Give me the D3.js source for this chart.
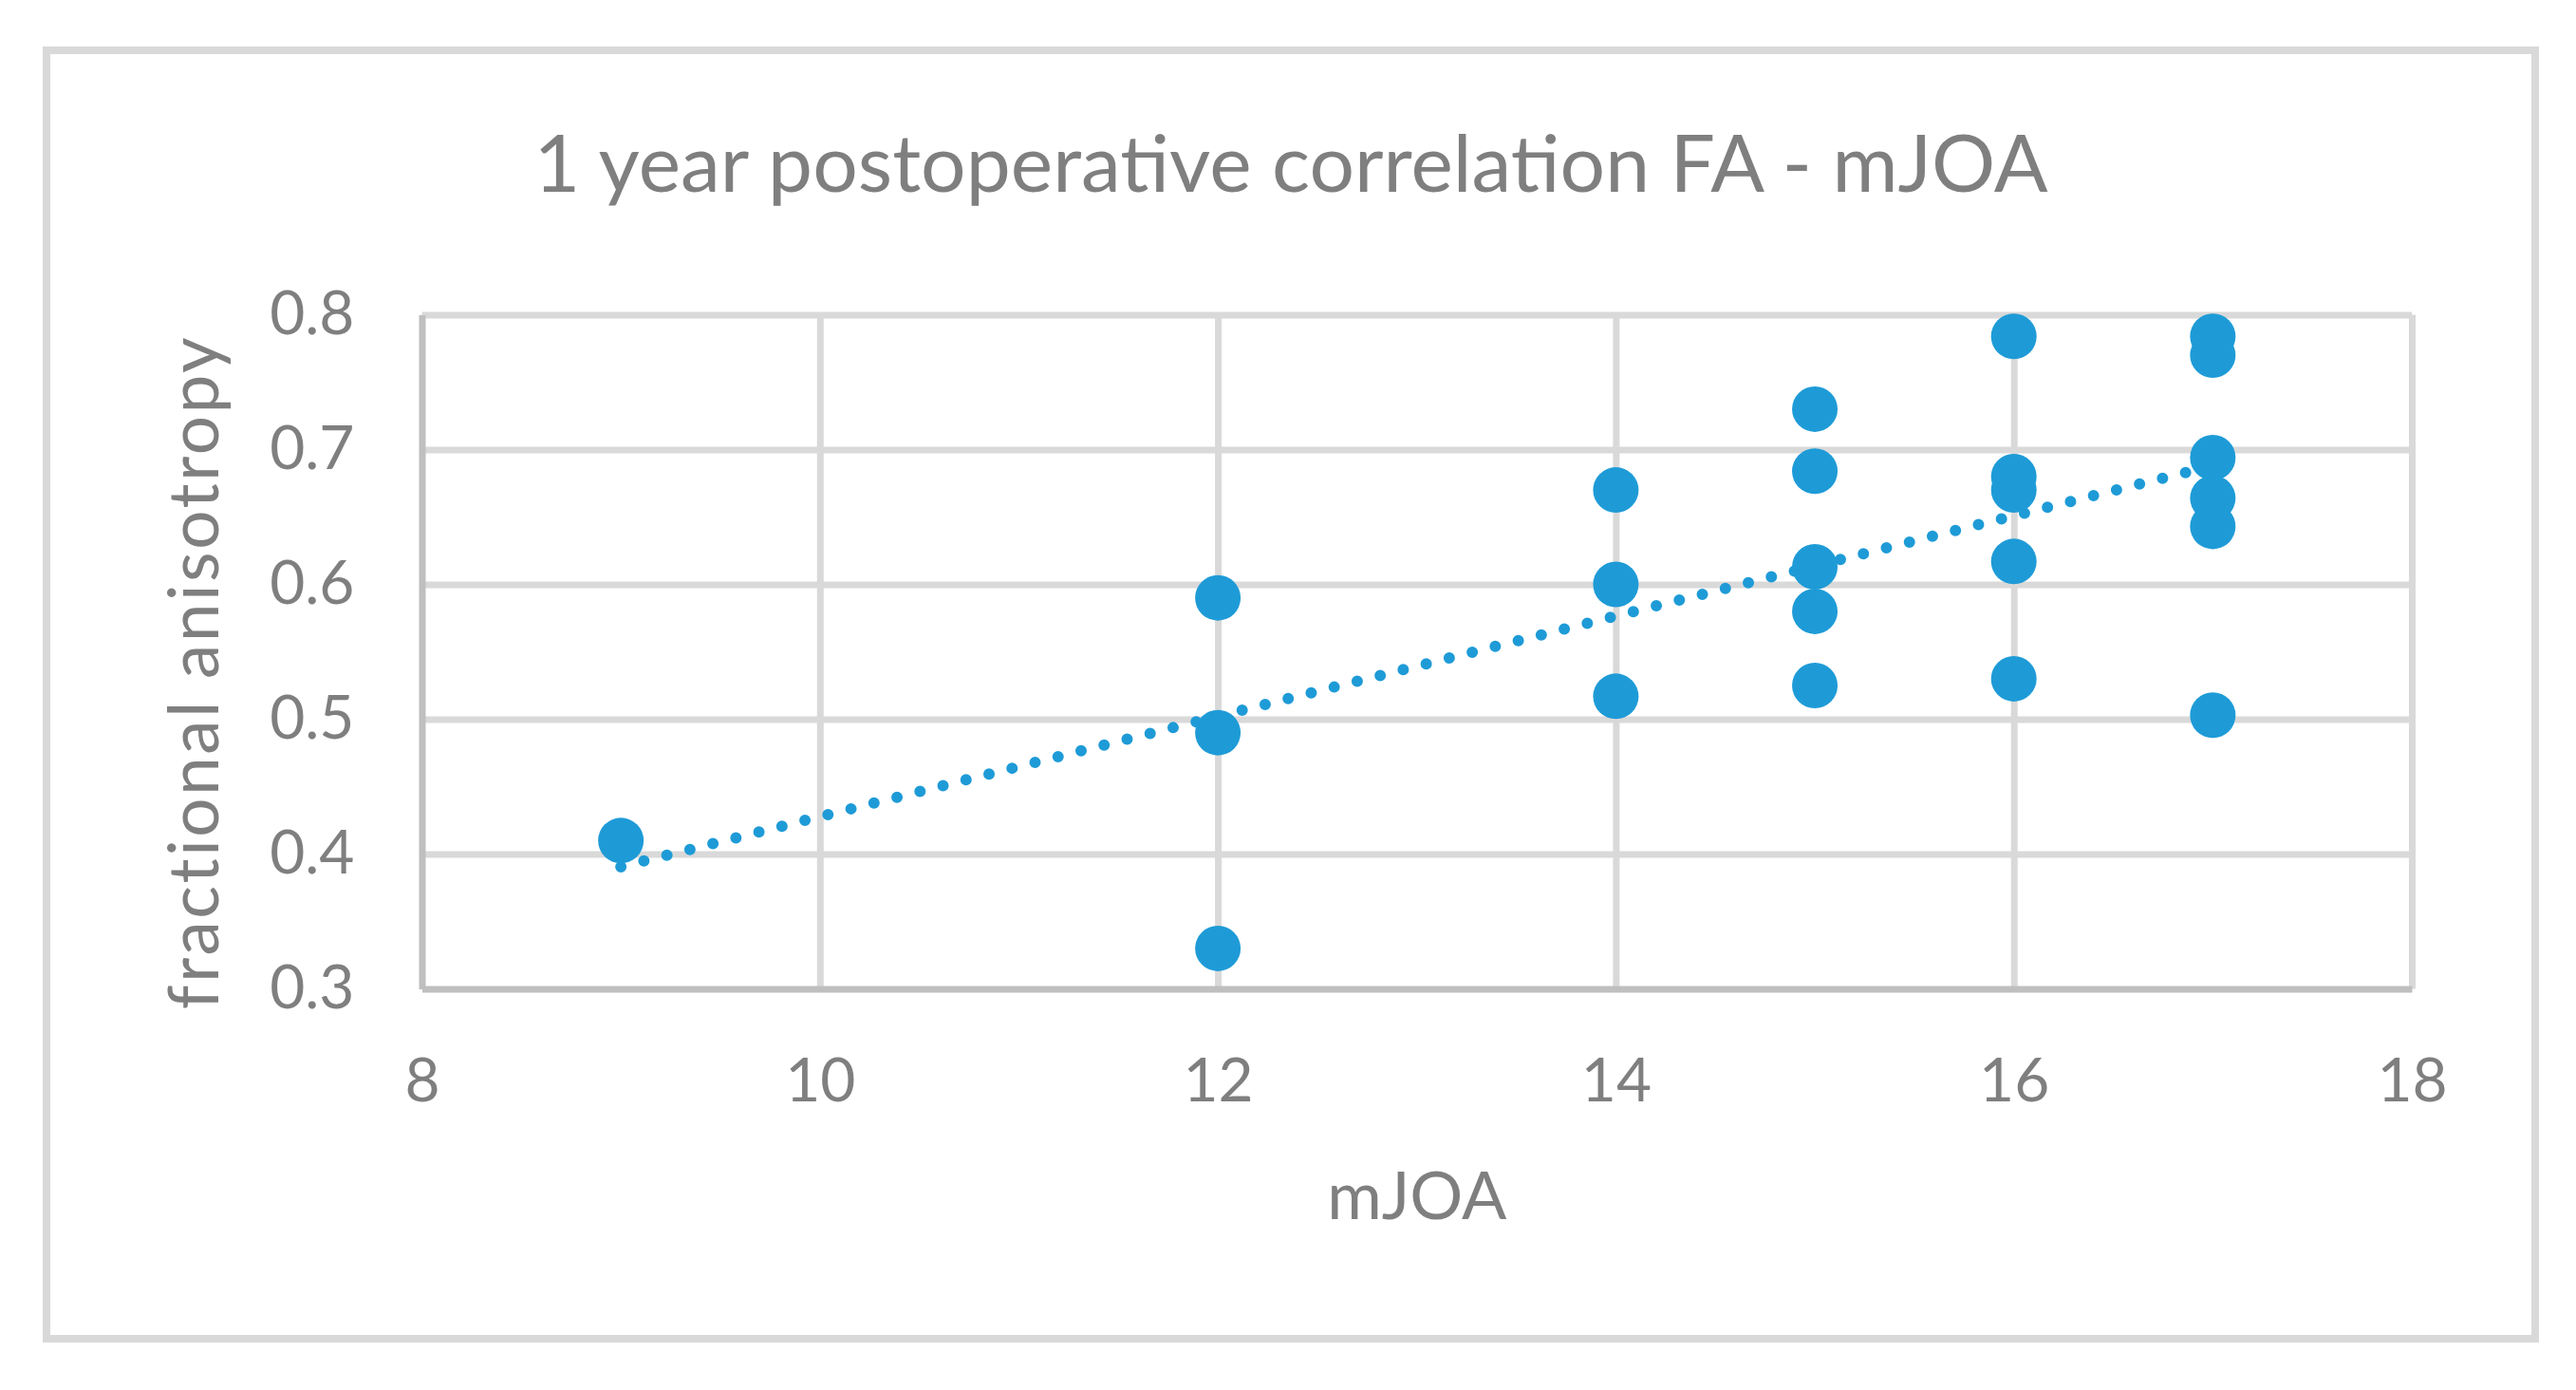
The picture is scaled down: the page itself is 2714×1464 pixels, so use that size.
<!DOCTYPE html>
<html lang="en">
    <head>
        <meta charset="utf-8">
        <title>FA - mJOA</title>
        <script src="https://d3js.org/d3.v7.min.js"></script>
        <style type="text/css">
          body {
            margin: 0;
            background-color: white;
          }

          svg {
            display: block;
            font-family: Lato, "Open Sans", sans-serif;
          }

          .title {
            font-size: 84px;
            fill: #7f7f7f;
          }

          .axis-title {
            font-size: 70px;
            fill: #7f7f7f;
          }

          .y-title {
            font-size: 73px;
            letter-spacing: 2.5px;
          }

          .axis text {
            font-size: 64px;
            fill: #7f7f7f;
            font-family: Lato, "Open Sans", sans-serif;
          }
        </style>
    </head>

    <body>
        <svg width="2714" height="1464"></svg>

        <script type="text/javascript">

        // 1 year postoperative values
        const mjoa = [9, 12, 12, 12, 14, 14, 14,
                      15, 15, 15, 15, 15,
                      16, 16, 16, 16, 16,
                      17, 17, 17, 17, 17, 17];
        const fa = [0.41, 0.59, 0.49, 0.33, 0.67, 0.60, 0.517,
                    0.730, 0.684, 0.613, 0.580, 0.525,
                    0.784, 0.680, 0.670, 0.617, 0.530,
                    0.784, 0.770, 0.694, 0.664, 0.643, 0.503];

        const xTicks = [8, 10, 12, 14, 16, 18];
        const yTicks = [0.3, 0.4, 0.5, 0.6, 0.7, 0.8];

        const chartTitle = "1 year postoperative correlation FA - mJOA";
        const xTitle = "mJOA";
        const yTitle = "fractional anisotropy";

        const points = mjoa.map((m, i) => ({x: m, y: fa[i]}));

        const blue = "#1e9bd7";

        // plot area
        const plotL = 444.5, plotR = 2541, plotT = 331.5, plotB = 1041.5;

        const svg = d3.select("svg");

        // outer chart frame
        svg.append("rect")
           .attr("x", 49)
           .attr("y", 53)
           .attr("width", 2622)
           .attr("height", 1357)
           .attr("fill", "white")
           .attr("stroke", "#d9d9d9")
           .attr("stroke-width", 8);

        const x = d3.scaleLinear().domain([8, 18]).range([plotL, plotR]);
        const y = d3.scaleLinear().domain([0.3, 0.8]).range([plotB, plotT]);

        //gridlines come from the tick lines of the axes
        const xAxis = d3.axisBottom(x)
                        .tickValues(xTicks)
                        .tickSizeInner(-(plotB - plotT))
                        .tickSizeOuter(0)
                        .tickFormat(d3.format("d"));

        const yAxis = d3.axisLeft(y)
                        .tickValues(yTicks)
                        .tickSizeInner(-(plotR - plotL))
                        .tickSizeOuter(0)
                        .tickPadding(71)
                        .tickFormat(d3.format(".1f"));

        const gx = svg.append("g")
                      .attr("class", "axis")
                      .attr("transform", "translate(0," + plotB + ")")
                      .call(xAxis);

        const gy = svg.append("g")
                      .attr("class", "axis")
                      .attr("transform", "translate(" + plotL + ",0)")
                      .call(yAxis);

        [gx, gy].forEach(g => {
          g.selectAll(".tick line")
           .attr("stroke", "#d9d9d9")
           .attr("stroke-width", 7);
          g.select(".domain")
           .attr("stroke", "#bfbfbf")
           .attr("stroke-width", 7)
           .raise();
        });

        // no light gridline on top of the axis lines themselves
        gx.selectAll(".tick").filter(d => d === 8).select("line").remove();
        gy.selectAll(".tick").filter(d => d === 0.3).select("line").remove();

        gx.selectAll(".tick text")
          .attr("y", 118)
          .attr("dy", 0);

        // linear trendline (least squares), dotted like excel
        const mx = d3.mean(mjoa), my = d3.mean(fa);
        const slope = d3.sum(points, p => (p.x - mx) * (p.y - my)) /
                      d3.sum(points, p => (p.x - mx) * (p.x - mx));
        const icpt = my - slope * mx;
        const xExt = d3.extent(mjoa);
        const trend = xExt.map(v => [x(v), y(icpt + slope * v)]);

        svg.append("path")
           .attr("d", d3.line()(trend))
           .attr("fill", "none")
           .attr("stroke", blue)
           .attr("stroke-width", 12)
           .attr("stroke-linecap", "round")
           .attr("stroke-dasharray", "0 25");

        svg.append("g")
           .selectAll("circle")
           .data(points)
           .join("circle")
           .attr("cx", d => x(d.x))
           .attr("cy", d => y(d.y))
           .attr("r", 24)
           .attr("fill", blue);

        // titles
        svg.append("text")
           .attr("class", "title")
           .attr("x", 1360)
           .attr("y", 202)
           .attr("text-anchor", "middle")
           .text(chartTitle);

        svg.append("text")
           .attr("class", "axis-title")
           .attr("x", (plotL + plotR) / 2)
           .attr("y", 1284)
           .attr("text-anchor", "middle")
           .text(xTitle);

        svg.append("text")
           .attr("class", "axis-title y-title")
           .attr("transform", "translate(230,708) rotate(-90)")
           .attr("text-anchor", "middle")
           .text(yTitle);

        </script>
    </body>
</html>
